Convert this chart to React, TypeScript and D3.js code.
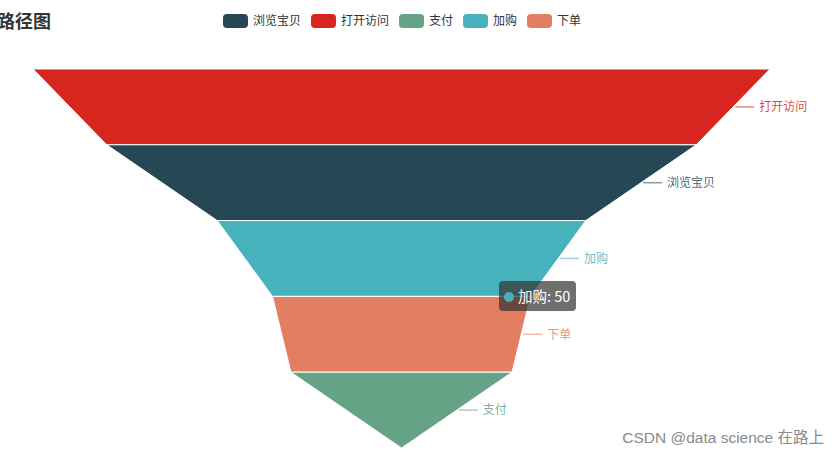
import React from "react";
import * as d3 from "d3";

const categories = ["打开访问", "浏览宝贝", "加购", "下单", "支付"];
const values = [100, 80, 50, 35, 30];
const colors = ["#d72520", "#264855", "#48b2bc", "#e27e62", "#66a285"];
const legendOrder = ["浏览宝贝", "打开访问", "支付", "加购", "下单"];
const titleText = "路径图";
const tooltipIndex = 2;
const watermark = "CSDN @data science 在路上";

const W = 840;
const H = 454;
const FONT = '"Microsoft YaHei", "Noto Sans CJK SC", sans-serif';

export default function App() {
  const top = 69;
  const bottom = 448;
  const cx = 401.5;
  const maxW = 737;
  const widthScale = d3.scaleLinear().domain([0, 100]).range([0, maxW]);
  const yScale = d3
    .scaleLinear()
    .domain([0, categories.length])
    .range([top, bottom]);

  const segs = categories.map((c, i) => {
    const wTop = widthScale(values[i]);
    const wBot = i + 1 < values.length ? widthScale(values[i + 1]) : widthScale(0);
    const y0 = yScale(i);
    const y1 = yScale(i + 1);
    const pts: [number, number][] = [
      [cx - wTop / 2, y0],
      [cx + wTop / 2, y0],
      [cx + wBot / 2, y1],
      [cx - wBot / 2, y1],
    ];
    const line = d3.line()(pts) + "Z";
    const midY = (y0 + y1) / 2;
    const midX = cx + (wTop + wBot) / 4;
    return { c, i, line, midY, midX, color: colors[i] };
  });

  const legendX = [223, 311, 399, 463, 527];

  const tip = segs[tooltipIndex];
  const tipX = 499;
  const tipY = 281;

  return (
    <svg
      width={W}
      height={H}
      style={{ position: "absolute", left: 0, top: 0, background: "#fff" }}
      fontFamily={FONT}
    >
      <text x={-3} y={28} fontSize={18} fontWeight="bold" fill="#333">
        {titleText}
      </text>

      {legendOrder.map((name, k) => {
        const idx = categories.indexOf(name);
        return (
          <g key={name}>
            <rect
              x={legendX[k]}
              y={14}
              width={25}
              height={14}
              rx={4}
              fill={colors[idx]}
            />
            <text
              x={legendX[k] + 30}
              y={21}
              dy="0.35em"
              fontSize={12}
              fill="#333"
            >
              {name}
            </text>
          </g>
        );
      })}

      {segs.map((s) => (
        <path key={s.c} d={s.line} fill={s.color} stroke="#fff" strokeWidth={1} />
      ))}

      {segs.map((s) => (
        <g key={"l" + s.c}>
          <line
            x1={s.midX + 2}
            x2={s.midX + 21}
            y1={s.midY}
            y2={s.midY}
            stroke={s.color}
            strokeOpacity={0.55}
            strokeWidth={1.5}
          />
          <text
            x={s.midX + 26}
            y={s.midY}
            dy="0.35em"
            fontSize={12}
            fill={s.color}
            fillOpacity={0.85}
          >
            {s.c}
          </text>
        </g>
      ))}

      <g>
        <rect
          x={tipX}
          y={tipY}
          width={77}
          height={30}
          rx={4}
          fill="rgba(50,50,50,0.7)"
        />
        <circle cx={tipX + 10} cy={tipY + 16} r={5} fill={tip.color} />
        <text
          x={tipX + 19}
          y={tipY + 16}
          dy="0.35em"
          fontSize={14.5}
          fill="#fff"
        >
          {`${categories[tooltipIndex]}: ${values[tooltipIndex]}`}
        </text>
      </g>

      <text
        x={824}
        y={443}
        textAnchor="end"
        fontSize={15.5}
        fill="#8a8a8a"
        fontFamily='"Liberation Sans", "Noto Sans CJK SC", sans-serif'
      >
        {watermark}
      </text>
    </svg>
  );
}
